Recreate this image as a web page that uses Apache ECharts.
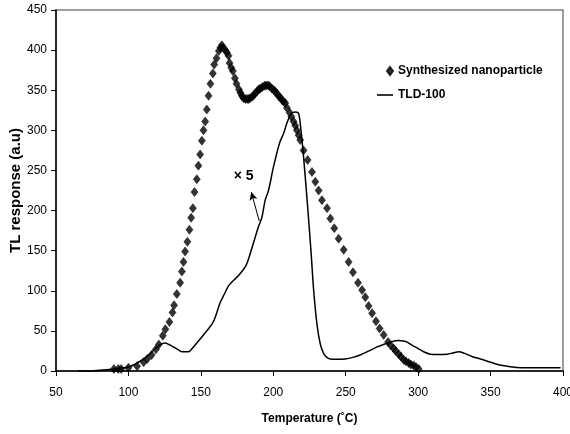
<!DOCTYPE html>
<html>
<head>
<meta charset="utf-8">
<script src="https://cdn.jsdelivr.net/npm/echarts@6/dist/echarts.min.js"></script>
<style>
html,body{margin:0;padding:0;background:#fff;}
#chart{width:570px;height:434px;}
</style>
</head>
<body>
<div id="chart"></div>
<script>
// Synthesized nanoparticle (diamond markers): temperature (°C), TL response
var synTemp = [90,93,95,100,106,110.5,113,116,119,121,123.7,125.5,128.3,130.4,131.5,133.4,135.7,136.9,138,139.1,140.7,142.1,143.3,144.5,145.6,147.2,148.3,149.5,150.7,151.8,153,154.1,155.3,156.6,158.3,159.2,160.8,162.4,163.5,164.5,165.5,166.8,168,169.1,169.8,171,172.1,173.5,174.6,176.3,177.3,178.3,179.5,180.8,182,183,184,185.5,186.5,187.5,189,190,191,192.5,194,195.1,196.5,197.5,199,200.5,201.5,202.5,203.5,204.8,205.9,207,208.3,209.4,211.3,212.5,214,215.2,216.3,217.5,218.6,220.9,223.7,226.7,229,231.3,233.6,237.1,239.4,242.1,245.1,248.6,252,255,258.5,261.3,263.5,265.8,268.2,270.9,273.4,276.2,279.2,281,283.1,284.5,286.6,288,290,291.5,293.5,295,296.9,298.5,300.4];
var synValue = [2.5,2.5,2.5,4,6,11,15,20,27,33,44,52,61,73,82,96,110,124,136,149,161,176,191,203,223,239,256,270,287,300,311,326,343,358,371,382,390,399,403,406,403,400,397,393,384,378,374,365,358,351,347,343,340,339,339,339,340,342,344,346,349,351,352,354,355.5,356,356,355,352,350,348,346,343,341,338,336,334,328,322,317,311,306,300,294,288,275,263,248,236,225,213,203,190,178,165,151,136,123,110,101,92,81,72,62,53,45,36,32,28,25,21,18,14,12,10,8,7,5,2.5];

// TLD-100 (solid line, ×5): temperature (°C), TL response
var tldTemp = [65,72,80,90,100,106,112.7,118,121.9,125.3,128,131,134,136.8,141.4,144,147.2,151.8,155,158.8,163.3,166,169.1,172,176,181.3,185.2,189.8,192.2,194.4,196.7,200.2,204.3,207.1,209.4,211.7,213.5,215.2,217.5,219.1,220.9,223.7,226,227.9,230.1,232.4,234.7,237,239.3,244,249.7,255,260,266,271.6,276,280.8,286.6,290,292.4,296,300,303.8,308.4,314,320,324,328,332,337.2,343,350,355,361.5,368,375.3,385,398.3];
var tldValue = [0,0,1,2.5,5,10,18,27,33,35,33,30,27,24,24,28,35,45,52,62,85,95,106,112,119,132,153,180,192,213,225,255,284,296,309,319,322,323,321,300,267,205,150,100,59,34,22,17,15,14.5,15,17,20,25,30,33,36,38,37.5,36,32,28,24,21,20.5,21,22.5,24,22,18,15,11,8,6,4.5,4,4,4];

// Axis ticks
var xTicks = [50,100,150,200,250,300,350,400];
var yTicks = [0,50,100,150,200,250,300,350,400,450];

// Annotation
var noteText = '× 5';
var notePos = [179.5, 243];
var arrowFrom = [190.3, 187];
var arrowTo = [184.8, 223];

function zip(a, b){ return a.map(function(v,i){ return [v, b[i]]; }); }

var chart = echarts.init(document.getElementById('chart'), null, {renderer:'canvas'});
var font = "'Liberation Sans', Arial, sans-serif";
chart.setOption({
  animation: false,
  backgroundColor: '#fff',
  textStyle: {fontFamily: font},
  grid: {left: 56, right: 7, top: 10, bottom: 63, containLabel: false, outerBoundsMode: 'none', show: true, borderColor: '#7f7f7f', borderWidth: 1.5, backgroundColor: 'transparent'},
  legend: [{
    data: ['Synthesized nanoparticle'],
    left: 381, top: 60, itemWidth: 6, itemHeight: 8, icon: 'diamond',
    textStyle: {fontFamily: font, fontSize: 12, fontWeight: 'bold', color: '#000'}
  },{
    data: [{name: 'TLD-100', icon: 'rect'}],
    left: 372, top: 84, itemWidth: 16, itemHeight: 1.6,
    textStyle: {fontFamily: font, fontSize: 12, fontWeight: 'bold', color: '#000'}
  }],
  xAxis: {
    type: 'value', min: xTicks[0], max: xTicks[xTicks.length-1], interval: xTicks[1]-xTicks[0],
    name: 'Temperature (˚C)', nameLocation: 'middle', nameGap: 42,
    nameTextStyle: {fontFamily: font, fontSize: 12, fontWeight: 'bold', color: '#000'},
    axisLine: {lineStyle: {color: '#000', width: 1.5}},
    axisTick: {inside: false, length: 5, lineStyle: {color: '#000'}},
    axisLabel: {color: '#000', fontSize: 12, margin: 16, fontFamily: font},
    splitLine: {show: false}
  },
  yAxis: {
    type: 'value', min: yTicks[0], max: yTicks[yTicks.length-1], interval: yTicks[1]-yTicks[0],
    name: 'TL response (a.u)', nameLocation: 'middle', nameGap: 33, nameMoveOverlap: false,
    nameTextStyle: {fontFamily: font, fontSize: 15, fontWeight: 'bold', color: '#000'},
    axisLine: {show: true, lineStyle: {color: '#000', width: 1.5}},
    axisTick: {show: true, inside: false, length: 5, lineStyle: {color: '#000'}},
    axisLabel: {color: '#000', fontSize: 12, margin: 9, fontFamily: font},
    splitLine: {show: false}
  },
  series: [{
    name: 'Synthesized nanoparticle',
    type: 'scatter',
    data: zip(synTemp, synValue),
    symbol: 'diamond',
    symbolSize: [7, 9],
    itemStyle: {color: '#000', borderColor: '#000', borderWidth: 0.6},
    z: 3
  },{
    name: 'TLD-100',
    type: 'line',
    data: zip(tldTemp, tldValue),
    showSymbol: false,
    symbol: 'none',
    smooth: 0.3,
    lineStyle: {color: '#000', width: 1.5},
    itemStyle: {color: '#000'},
    z: 2,
    markLine: {
      silent: true,
      symbol: ['none', 'arrow'],
      symbolSize: [6, 8],
      label: {show: false},
      lineStyle: {color: '#000', width: 1, type: 'solid'},
      data: [[{coord: arrowFrom}, {coord: arrowTo}]]
    },
    markPoint: {
      silent: true,
      symbol: 'circle', symbolSize: 0,
      label: {show: true, position: 'inside', formatter: noteText, color: '#000', fontSize: 14, fontWeight: 'bold', fontFamily: font},
      data: [{coord: notePos}]
    }
  }]
});
</script>
</body>
</html>
